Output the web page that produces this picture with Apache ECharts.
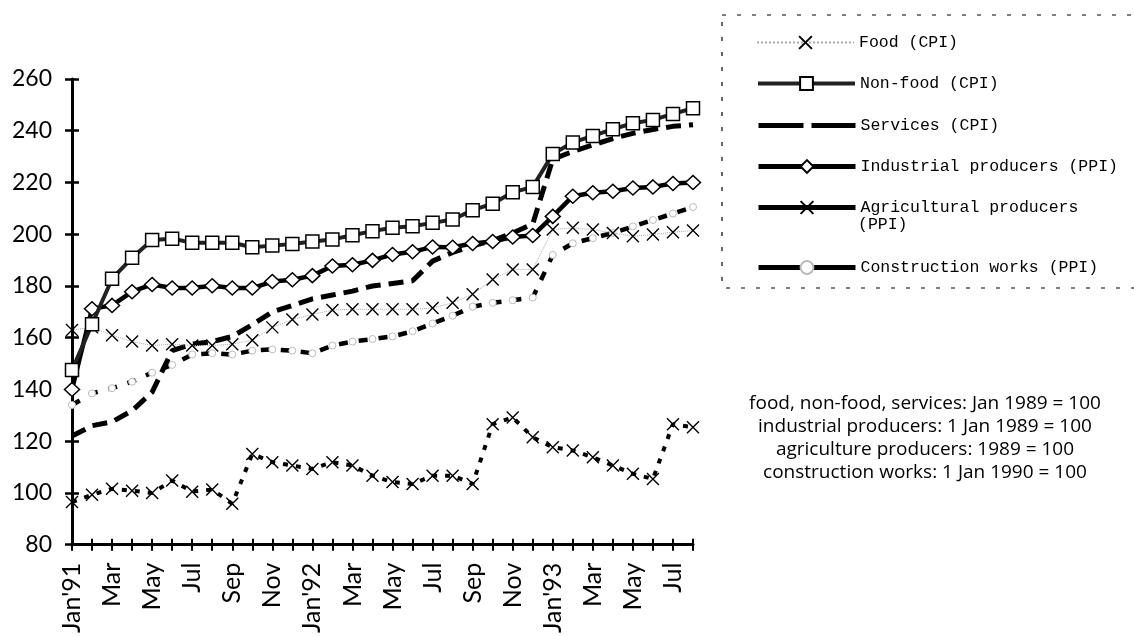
<!DOCTYPE html>
<html>
<head>
<meta charset="utf-8">
<script src="https://cdn.jsdelivr.net/npm/echarts@6/dist/echarts.min.js"></script>
<style>
  html, body { margin: 0; padding: 0; background: #fff; }
  #chart { width: 1134px; height: 636px; }
</style>
</head>
<body>
<div id="chart"></div>
<script>
// Monthly index values, Jan 1991 - Aug 1993
const months = ["Jan'91", "Feb", "Mar", "Apr", "May", "Jun", "Jul", "Aug", "Sep", "Oct", "Nov", "Dec",
                "Jan'92", "Feb", "Mar", "Apr", "May", "Jun", "Jul", "Aug", "Sep", "Oct", "Nov", "Dec",
                "Jan'93", "Feb", "Mar", "Apr", "May", "Jun", "Jul", "Aug"];

const food = [163, 164, 161, 158.5, 157, 157.5, 157, 157, 157.5, 159, 164, 167,
              169, 170.7, 171, 171, 171, 171, 171.5, 173.5, 176.8, 182.5, 186.4, 186.4,
              201.8, 202.5, 201.8, 200.5, 199.2, 199.9, 200.8, 201.4];

const nonFood = [147.5, 165.2, 182.8, 190.9, 197.8, 198.3, 196.7, 196.7, 196.7, 195, 195.6, 196.2,
                 197.2, 198, 199.6, 201.2, 202.5, 203.1, 204.4, 205.7, 209.3, 211.8, 216.2, 218.3,
                 231, 235.5, 238, 240.6, 242.9, 244.2, 246.5, 248.7];

const services = [122, 126, 127.5, 131.8, 139, 155, 157.5, 158.5, 160.5, 165, 170, 172.5,
                  175, 176.5, 178, 180, 181, 182, 189.6, 193, 195.5, 197.5, 200.5, 204,
                  229, 232, 234.5, 237, 239, 240.5, 241.7, 242.3];

const industrial = [140, 171.2, 172.5, 177.8, 180.6, 179.2, 179.2, 180.1, 179.2, 179.2, 181.7, 182.4,
                    184, 187.7, 188.2, 189.9, 192.2, 193.2, 195.1, 195, 196.4, 197.2, 198.9, 199.5,
                    206.9, 214.7, 216, 216.6, 217.9, 218.3, 219.6, 220];

const agricultural = [96.5, 99.3, 101.6, 100.9, 100, 104.8, 100.5, 101.3, 95.8, 115.1, 111.9, 110.6,
                      109.3, 111.9, 110.6, 106.7, 104.2, 103.5, 106.7, 106.7, 103.5, 126.6, 129.2, 121.5,
                      117.7, 116.4, 113.8, 110.6, 107.4, 105.4, 126.6, 125.4];

const construction = [134, 138.5, 140.5, 143, 146.5, 149.5, 153.5, 154, 153.5, 155, 155.5, 155,
                      154, 157, 158.5, 159.5, 160.5, 162.5, 165.5, 168.5, 172, 173.5, 174.5, 175.5,
                      192, 196.5, 198.5, 200.5, 203, 205.5, 208, 210.5];

const seriesNames = ['Food (CPI)', 'Non-food (CPI)', 'Services (CPI)', 'Industrial producers (PPI)',
                     'Agricultural producers (PPI)', 'Construction works (PPI)'];

const baseNotes = ['food, non-food, services: Jan 1989 = 100',
                   'industrial producers: 1 Jan 1989 = 100',
                   'agriculture producers: 1989 = 100',
                   'construction works: 1 Jan 1990 = 100'];

const yMin = 80, yMax = 260, yStep = 20;

const CROSS = 'path://M0,0L10,10M10,0L0,10';
const INK = '#000';
const labelFont = 'Lato, "Noto Sans", sans-serif';
const noteFont = '"Open Sans", Lato, sans-serif';
const monoFont = '"Liberation Mono", "DejaVu Sans Mono", monospace';
const legendFontSize = 16.5;

const chart = echarts.init(document.getElementById('chart'), null, { renderer: 'canvas' });

function legendRow(name, top, extra) {
  return Object.assign({
    data: [name],
    left: 756,
    top: top,
    orient: 'horizontal',
    padding: 0,
    itemGap: 0,
    itemWidth: 97,
    itemHeight: 16,
    selectedMode: false,
    textStyle: { fontFamily: monoFont, fontSize: legendFontSize, color: INK }
  }, extra || {});
}

const option = {
  animation: false,
  backgroundColor: '#fff',
  grid: { left: 72, right: 441, top: 79, bottom: 90 },
  xAxis: [
    {
      type: 'category', data: months, boundaryGap: false, position: 'bottom',
      axisLine: { show: true, lineStyle: { color: INK, width: 3 } },
      axisTick: { show: true, interval: 0, length: 6, lineStyle: { color: INK, width: 2 } },
      axisLabel: { interval: 1, rotate: 90, margin: 18, fontSize: 25, fontFamily: labelFont, color: INK },
      splitLine: { show: false }
    },
    {
      type: 'category', data: months, boundaryGap: false, position: 'bottom',
      axisLine: { show: false },
      axisTick: { show: true, inside: true, interval: 0, length: 6, lineStyle: { color: INK, width: 2 } },
      axisLabel: { show: false },
      splitLine: { show: false }
    }
  ],
  yAxis: [
    {
      type: 'value', min: yMin, max: yMax, interval: yStep, position: 'left',
      axisLine: { show: true, lineStyle: { color: INK, width: 3 } },
      axisTick: { show: true, length: 7, lineStyle: { color: INK, width: 2.5 } },
      axisLabel: { margin: 20, fontSize: 23, fontFamily: labelFont, color: INK },
      splitLine: { show: false }
    },
    {
      type: 'value', min: yMin, max: yMax, interval: yStep, position: 'left',
      axisLine: { show: false },
      axisTick: { show: true, inside: true, length: 7, lineStyle: { color: INK, width: 2.5 } },
      axisLabel: { show: false },
      splitLine: { show: false }
    }
  ],
  legend: [
    legendRow(seriesNames[0], 34),
    legendRow(seriesNames[1], 75, { lineStyle: { width: 4, color: '#222', type: 'solid' } }),
    legendRow(seriesNames[2], 117, {
      lineStyle: { width: 5, color: INK, type: [45, 8] },
      itemStyle: { opacity: 0 }
    }),
    legendRow(seriesNames[3], 158, { lineStyle: { width: 5, color: INK, type: 'solid' } }),
    legendRow(seriesNames[4], 199, {
      lineStyle: { width: 5, color: INK, type: 'solid' },
      formatter: function () { return 'Agricultural producers'; }
    }),
    legendRow(seriesNames[5], 259, { lineStyle: { width: 5, color: INK, type: 'solid' } })
  ],
  graphic: [
    {
      type: 'rect', silent: true, z: 0,
      shape: { x: 722, y: 15, width: 430, height: 273 },
      style: { fill: 'none', stroke: INK, lineWidth: 1.2, lineDash: [4, 11] }
    },
    {
      // second line of the agricultural legend label
      type: 'text', silent: true,
      x: 858, y: 225,
      style: { text: '(PPI)', fill: INK, font: legendFontSize + 'px ' + monoFont, textAlign: 'left', textVerticalAlign: 'middle' }
    }
  ].concat(baseNotes.map(function (t, i) {
    return {
      type: 'text', silent: true,
      x: 925, y: 404 + i * 22.7,
      style: { text: t, fill: INK, font: '19px ' + noteFont, textAlign: 'center', textVerticalAlign: 'middle' }
    };
  })),
  series: [
    {
      name: seriesNames[4], type: 'line', data: agricultural, z: 2,
      symbol: CROSS, symbolSize: 12, showAllSymbol: true,
      lineStyle: { color: INK, width: 4, type: [5, 8] },
      itemStyle: { color: INK, borderColor: INK, borderWidth: 1.4 }
    },
    {
      name: seriesNames[5], type: 'line', data: construction, z: 3,
      symbol: 'circle', symbolSize: 7, showAllSymbol: true,
      lineStyle: { color: INK, width: 4.5, type: [9, 11] },
      itemStyle: { color: '#fff', borderColor: '#bbb', borderWidth: 1 }
    },
    {
      name: seriesNames[2], type: 'line', data: services, z: 4,
      symbol: 'none',
      lineStyle: { color: INK, width: 5, type: [15, 8] }
    },
    {
      name: seriesNames[0], type: 'line', data: food, z: 5,
      symbol: CROSS, symbolSize: 12, showAllSymbol: true,
      lineStyle: { color: '#aaa', width: 1, type: 'dotted' },
      itemStyle: { color: INK, borderColor: INK, borderWidth: 1.4 }
    },
    {
      name: seriesNames[3], type: 'line', data: industrial, z: 6,
      symbol: 'diamond', symbolSize: [15, 14], showAllSymbol: true,
      lineStyle: { color: INK, width: 4.5 },
      itemStyle: { color: '#fff', borderColor: INK, borderWidth: 1.5 }
    },
    {
      name: seriesNames[1], type: 'line', data: nonFood, z: 7,
      symbol: 'rect', symbolSize: 13, showAllSymbol: true,
      lineStyle: { color: '#222', width: 4 },
      itemStyle: { color: '#fff', borderColor: INK, borderWidth: 1.5 }
    }
  ]
};

chart.setOption(option);
</script>
</body>
</html>
